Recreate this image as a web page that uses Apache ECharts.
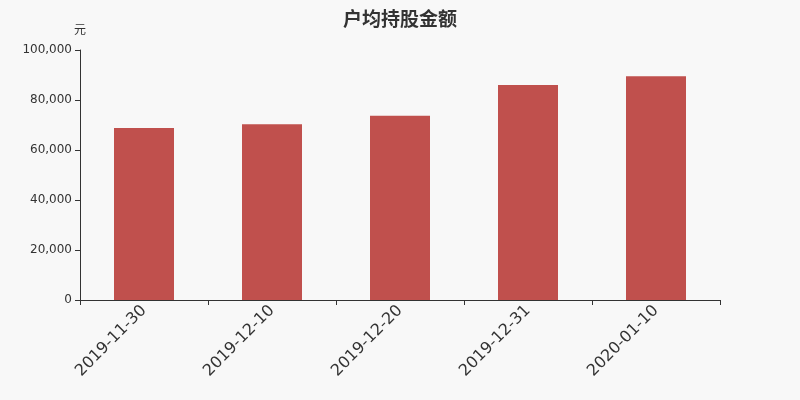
<!DOCTYPE html>
<html>
<head>
<meta charset="utf-8">
<script src="https://cdn.jsdelivr.net/npm/echarts@6/dist/echarts.min.js"></script>
<style>
html,body{margin:0;padding:0;background:#f8f8f8;}
#c{width:800px;height:400px;}
</style>
</head>
<body>
<div id="c"></div>
<script>
const categories = ['2019-11-30', '2019-12-10', '2019-12-20', '2019-12-31', '2020-01-10'];
const values = [68800, 70300, 73700, 86000, 89500];
const chartTitle = '户均持股金额';
const unitName = '元';

const chart = echarts.init(document.getElementById('c'));
chart.setOption({
  backgroundColor: '#f8f8f8',
  animation: false,
  textStyle: { fontFamily: 'DejaVu Sans' },
  title: {
    text: chartTitle,
    left: 'center',
    top: 4,
    textStyle: { fontSize: 19, fontWeight: 'bold', color: '#333', fontFamily: 'Noto Sans CJK SC' }
  },
  grid: { left: 80, right: 80, top: 50, bottom: 100 },
  xAxis: {
    type: 'category',
    data: categories,
    axisLine: { lineStyle: { color: '#333' } },
    axisTick: { show: true, lineStyle: { color: '#333' } },
    axisLabel: { rotate: 45, fontSize: 16, color: '#333', margin: 8, interval: 0, fontFamily: 'DejaVu Sans' }
  },
  yAxis: {
    type: 'value',
    name: unitName,
    nameTextStyle: { color: '#333', fontSize: 12, fontFamily: 'Noto Sans CJK SC' },
    nameGap: 15,
    min: 0,
    max: 100000,
    interval: 20000,
    splitLine: { show: false },
    axisLine: { show: true, lineStyle: { color: '#333' } },
    axisTick: { show: true, lineStyle: { color: '#333' } },
    axisLabel: {
      color: '#333', fontSize: 12, fontFamily: 'DejaVu Sans',
      formatter: v => v.toLocaleString('en-US')
    }
  },
  series: [{
    type: 'bar',
    data: values,
    barWidth: 60,
    itemStyle: { color: '#c0504d' }
  }]
});
</script>
</body>
</html>
